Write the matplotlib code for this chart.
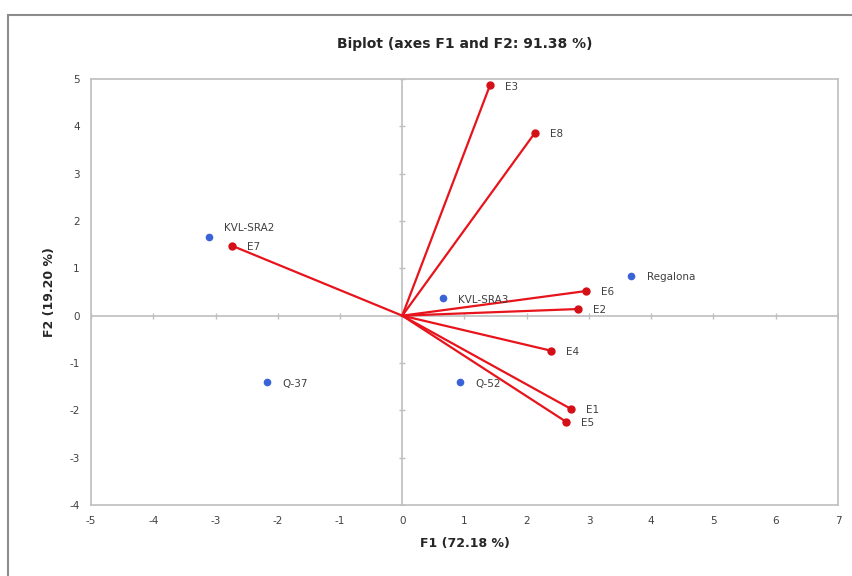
import matplotlib.pyplot as plt
from matplotlib.patches import Rectangle

# variables (red vectors)
var_names = ["E1", "E2", "E3", "E4", "E5", "E6", "E7", "E8"]
var_f1 = [2.71, 2.82, 1.41, 2.39, 2.63, 2.95, -2.74, 2.13]
var_f2 = [-1.97, 0.14, 4.87, -0.74, -2.24, 0.52, 1.48, 3.86]

# observations (blue points)
obs_names = ["KVL-SRA2", "KVL-SRA3", "Regalona", "Q-37", "Q-52"]
obs_f1 = [-3.11, 0.65, 3.68, -2.17, 0.93]
obs_f2 = [1.67, 0.37, 0.84, -1.41, -1.41]

x_ticks = list(range(-5, 8))
y_ticks = list(range(-4, 6))

plt.rcParams["axes.unicode_minus"] = False

red = "#e8141c"
blue = "#3a63d8"
grey = "#bfbfbf"
txt = "#404040"

fig = plt.figure(figsize=(8.53, 5.76), dpi=100)
ax = fig.add_axes([91 / 853, 1 - 505 / 576, (838 - 91) / 853, (505 - 79) / 576])

# outer chart frame
fig.patches.append(Rectangle((8 / 853, -0.05), 1.0, 1 - 15 / 576 + 0.05,
                             transform=fig.transFigure, fill=False,
                             edgecolor="#8c8c8c", linewidth=1.5))

# zero axes with small tick marks
ax.axhline(0, color=grey, linewidth=1.2, zorder=1)
ax.axvline(0, color=grey, linewidth=1.2, zorder=1)
ax.plot(x_ticks, [0] * len(x_ticks), linestyle="none", marker="|",
        markersize=5, color=grey, zorder=1)
ax.plot([0] * len(y_ticks), y_ticks, linestyle="none", marker="_",
        markersize=5, color=grey, zorder=1)

for x, y, name in zip(var_f1, var_f2, var_names):
    ax.plot([0, x], [0, y], color=red, linewidth=1.6, zorder=2)
    ax.plot(x, y, "o", color="#d40f17", markersize=5, zorder=3)
    ax.annotate(name, (x, y), xytext=(11, -1), textcoords="offset points",
                va="center", ha="left", fontsize=7.5, color=txt)

ax.plot(obs_f1, obs_f2, "o", color=blue, markersize=4.5, linestyle="none", zorder=3)
for x, y, name in zip(obs_f1, obs_f2, obs_names):
    off = (11, 6) if name == "KVL-SRA2" else (11, -1)
    ax.annotate(name, (x, y), xytext=off, textcoords="offset points",
                va="center", ha="left", fontsize=7.5, color=txt)

ax.set_xlim(-5, 7)
ax.set_ylim(-4, 5)
ax.set_xticks(x_ticks)
ax.set_yticks(y_ticks)
ax.tick_params(length=0, labelsize=7.5, labelcolor=txt, pad=8)
for s in ax.spines.values():
    s.set_color(grey)
    s.set_linewidth(1.2)

ax.set_xlabel("F1 (72.18 %)", fontsize=9, fontweight="bold", color="#262626", labelpad=8)
ax.set_ylabel("F2 (19.20 %)", fontsize=9, fontweight="bold", color="#262626", labelpad=10)
fig.text(0.5 * (91 + 838) / 853, 1 - 44 / 576, "Biplot (axes F1 and F2: 91.38 %)",
         ha="center", va="center", fontsize=10, fontweight="bold", color="#262626")

fig.savefig("out.png", dpi=100)
